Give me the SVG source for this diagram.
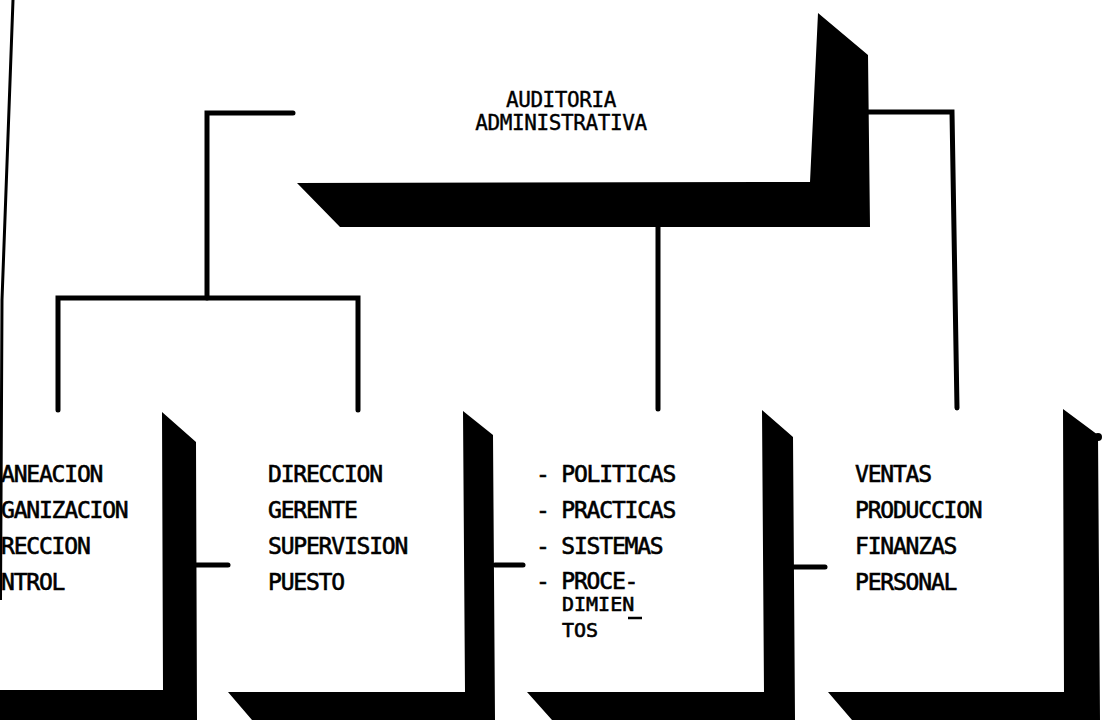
<svg xmlns="http://www.w3.org/2000/svg" width="1102" height="720" viewBox="0 0 1102 720">
  <style>
    .shadow { fill: #000; stroke: none; }
    .body { fill: #fff; stroke: none; }
    .wire { fill: none; stroke: #000; stroke-width: 5; stroke-linecap: round; stroke-linejoin: miter; }
    .title { font-family: "DejaVu Sans Mono", "Liberation Mono", monospace; font-size: 21px; letter-spacing: -0.4px; fill: #000; stroke: #000; stroke-width: 0.4px; }
    .item { font-family: "DejaVu Sans Mono", "Liberation Mono", monospace; font-size: 23px; letter-spacing: -1.2px; fill: #000; stroke: #000; stroke-width: 0.6px; }
    .small { font-size: 20px; letter-spacing: 0px; }
  </style>

  <rect x="0" y="0" width="1102" height="720" fill="#fff"/>

  <!-- margin rule at the left edge of the sheet -->
  <polyline points="13,0 2,300 0.5,600" fill="none" stroke="#000" stroke-width="3"/>

  <!-- connectors -->
  <g id="connectors">
    <path class="wire" d="M293,113 H207 V298"/>
    <path class="wire" d="M58,410 V298 H358 V410"/>
    <path class="wire" d="M658,227 V409"/>
    <path class="wire" d="M868,112 H952 L957,408"/>
    <path class="wire" d="M196,565 H228"/>
    <path class="wire" d="M495,565 H523"/>
    <path class="wire" d="M793,567 H825"/>
  </g>

  <!-- root node -->
  <g id="auditoria">
    <rect class="body" x="297" y="13" width="513" height="170"/>
    <polygon class="shadow" points="818,13 868,55 870,227 340,227 297,183 810,182"/>
    <text class="title" x="561" y="107" text-anchor="middle">AUDITORIA</text>
    <text class="title" x="561" y="130" text-anchor="middle">ADMINISTRATIVA</text>
  </g>

  <!-- process node (clipped at the left edge) -->
  <g id="proceso">
    <polygon class="shadow" points="162,412 196,442 197,720 0,720 0,690 163,690"/>
    <text class="item" x="1" y="482">ANEACION</text>
    <text class="item" x="1" y="518">GANIZACION</text>
    <text class="item" x="1" y="554">RECCION</text>
    <text class="item" x="1" y="590">NTROL</text>
  </g>

  <!-- hierarchy node -->
  <g id="niveles">
    <polygon class="shadow" points="463,411 493,435 495,720 252,720 228,692 465,692"/>
    <text class="item" x="268" y="482">DIRECCION</text>
    <text class="item" x="268" y="518">GERENTE</text>
    <text class="item" x="268" y="554">SUPERVISION</text>
    <text class="item" x="268" y="590">PUESTO</text>
  </g>

  <!-- instruments node -->
  <g id="instrumentos">
    <polygon class="shadow" points="762,410 793,437 795,720 552,720 527,692 764,692"/>
    <text class="item" x="536" y="482">- POLITICAS</text>
    <text class="item" x="536" y="518">- PRACTICAS</text>
    <text class="item" x="536" y="554">- SISTEMAS</text>
    <text class="item" x="536" y="589">- PROCE-</text>
    <text class="item small" x="562" y="611">DIMIEN</text>
    <line x1="628" y1="618" x2="642" y2="618" stroke="#000" stroke-width="2.5"/>
    <text class="item small" x="562" y="637">TOS</text>
  </g>

  <!-- functional areas node -->
  <g id="areas">
    <polygon class="shadow" points="1063,409 1098,435 1100,720 852,720 828,692 1064,692"/>
    <circle class="shadow" cx="1098" cy="437" r="4"/>
    <text class="item" x="855" y="482">VENTAS</text>
    <text class="item" x="855" y="518">PRODUCCION</text>
    <text class="item" x="855" y="554">FINANZAS</text>
    <text class="item" x="855" y="590">PERSONAL</text>
  </g>
</svg>
